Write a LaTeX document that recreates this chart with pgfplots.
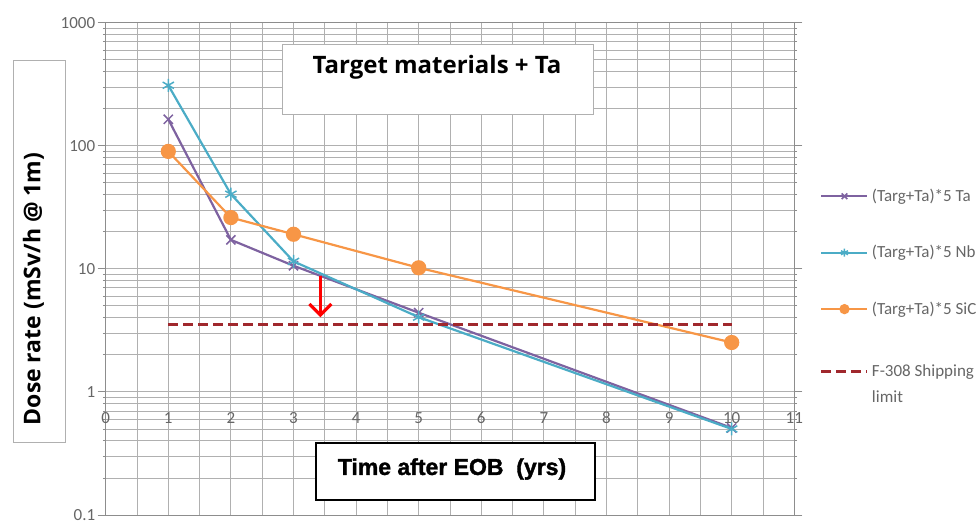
\documentclass[border=0pt]{standalone}
\usepackage{fontspec}
\setmainfont{Carlito}
\newfontfamily\titlefont{Open Sans}
\newfontfamily\xlabfont{Liberation Sans}[BoldFeatures={FakeBold=1.5}]
\usepackage{pgfplots}
\pgfplotsset{compat=1.18}
\usetikzlibrary{arrows.meta}
\definecolor{tapurple}{HTML}{7E62A0}
\definecolor{nbteal}{HTML}{4BACC6}
\definecolor{sicorange}{HTML}{F79646}
\definecolor{limitred}{HTML}{A0282D}
\definecolor{gridgray}{HTML}{B0B0B0}
\definecolor{txtgray}{HTML}{666666}
\begin{document}
\begin{tikzpicture}
\path[use as bounding box] (0,0) rectangle (979pt,521pt);
\begin{axis}[
  at={(105.7pt,6pt)}, anchor=south west,
  scale only axis, width=688.6pt, height=492.3pt,
  xmin=0, xmax=11, ymin=0.1, ymax=1000, ymode=log,
  clip mode=individual,
  xtick={0,...,11}, xticklabels={}, minor x tick num=1,
  ytick={0.1,1,10,100,1000}, yticklabels={0.1,1,10,100,1000},
  minor ytick={0.2,0.3,0.4,0.5,0.6,0.7,0.8,0.9,2,3,4,5,6,7,8,9,20,30,40,50,60,70,80,90,200,300,400,500,600,700,800,900},
  grid=both,
  major grid style={draw=gridgray, line width=0.9pt},
  minor grid style={draw=gridgray, line width=0.9pt},
  axis line style={draw=gridgray!80!black, line width=0.9pt},
  xtick style={draw=none}, minor tick style={draw=none},
  ytick style={draw=gridgray!80!black, line width=0.9pt},
  tick align=outside, major tick length=8pt,
  yticklabel style={font=\fontsize{17}{19}\selectfont, text=txtgray, xshift=1pt},
  /pgf/number format/assume math mode=true,
  legend style={at={(1.037,0.667)}, anchor=north west, draw=none, fill=none,
    inner sep=0pt, font=\fontsize{17}{26}\selectfont, text=txtgray,
    row sep=38.5pt, column sep=1pt, nodes={inner sep=2pt}, cells={anchor=base west}},
  legend image code/.code={\draw[mark repeat=2,mark phase=2,#1,mark size=4pt] plot coordinates {(0pt,5pt) (23pt,5pt) (46pt,5pt)};},
]
\addplot[color=tapurple, line width=2.2pt, mark=x, mark size=6.5pt, mark options={line width=1.5pt}]
  coordinates {(1,164) (2,17.2) (3,10.6) (5,4.4) (10,0.51)};
\addlegendentry{(Targ+Ta)*5 Ta}
\addplot[color=nbteal, line width=2.2pt, mark=asterisk, mark size=6.5pt, mark options={line width=1.5pt}]
  coordinates {(1,310) (2,40.4) (3,11.5) (5,4.05) (10,0.5)};
\addlegendentry{(Targ+Ta)*5 Nb}
\addplot[color=sicorange, line width=2.2pt, mark=*, mark size=6.5pt, mark options={fill=sicorange}]
  coordinates {(1,90) (2,26.1) (3,19.1) (5,10.2) (10,2.52)};
\addlegendentry{(Targ+Ta)*5 SiC}
\addplot[color=limitred, line width=3pt, dash pattern=on 10pt off 5pt]
  coordinates {(1,3.5) (10,3.5)};
\addlegendentry{\begin{tabular}[t]{@{}l@{}}F-308 Shipping\\limit\end{tabular}}
\draw[red, line width=3.2pt, -{Straight Barb[length=11pt,width=22pt]}] (axis cs:3.43,8.75) -- (axis cs:3.43,4.04);
\pgfplotsinvokeforeach{0,...,11}{\node[font=\fontsize{17}{19}\selectfont, text=txtgray] at (axis cs:#1,0.615) {#1};}
\end{axis}
\draw[draw=gridgray, line width=1pt, fill=white] (282pt,406pt) rectangle (593pt,476pt);
\node[font=\titlefont\bfseries\fontsize{24}{28}\selectfont] at (437pt,454pt) {Target materials + Ta};
\draw[draw=gridgray, line width=1pt, fill=white] (13pt,78pt) rectangle (65pt,460pt);
\node[rotate=90, font=\titlefont\bfseries\fontsize{23}{27}\selectfont] at (33.5pt,232pt) {Dose rate (mSv/h @ 1m)};
\draw[black, line width=1.5pt, fill=white] (316pt,21pt) rectangle (595pt,78pt);
\node[font=\xlabfont\bfseries\fontsize{23}{27}\selectfont] at (452pt,52pt) {Time after EOB\ \ (yrs)};
\end{tikzpicture}
\end{document}
